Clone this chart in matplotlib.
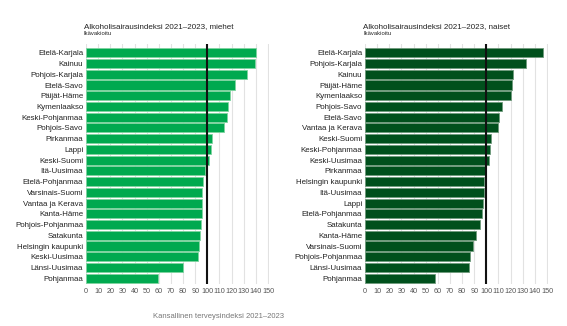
import matplotlib
matplotlib.use("Agg")
import matplotlib.pyplot as plt

plt.rcParams['font.family'] = ['Liberation Sans', 'DejaVu Sans']

men_regions = ["Etelä-Karjala", "Kainuu", "Pohjois-Karjala", "Etelä-Savo", "Päijät-Häme",
               "Kymenlaakso", "Keski-Pohjanmaa", "Pohjois-Savo", "Pirkanmaa", "Lappi",
               "Keski-Suomi", "Itä-Uusimaa", "Etelä-Pohjanmaa", "Varsinais-Suomi",
               "Vantaa ja Kerava", "Kanta-Häme", "Pohjois-Pohjanmaa", "Satakunta",
               "Helsingin kaupunki", "Keski-Uusimaa", "Länsi-Uusimaa", "Pohjanmaa"]
men_values = [140, 139.4, 133, 123, 119, 117, 116.5, 114, 104, 103, 101.2, 98, 96.3, 96,
              95.7, 95.2, 94.9, 94.1, 93, 92.4, 79.6, 59.3]

women_regions = ["Etelä-Karjala", "Pohjois-Karjala", "Kainuu", "Päijät-Häme", "Kymenlaakso",
                 "Pohjois-Savo", "Etelä-Savo", "Vantaa ja Kerava", "Keski-Suomi",
                 "Keski-Pohjanmaa", "Keski-Uusimaa", "Pirkanmaa", "Helsingin kaupunki",
                 "Itä-Uusimaa", "Lappi", "Etelä-Pohjanmaa", "Satakunta", "Kanta-Häme",
                 "Varsinais-Suomi", "Pohjois-Pohjanmaa", "Länsi-Uusimaa", "Pohjanmaa"]
women_values = [146.4, 132.7, 122.3, 121.4, 120.3, 112.9, 110.7, 109.3, 103.6, 102.7, 102.5,
                99.5, 98.1, 97.8, 97, 96.2, 94.5, 91.5, 89, 86.8, 85.7, 58]

xticks = list(range(0, 151, 10))
titles = ["Alkoholisairausindeksi 2021–2023, miehet", "Alkoholisairausindeksi 2021–2023, naiset"]
subtitle = "Ikävakioitu"
footer = "Kansallinen terveysindeksi 2021–2023"

W, H = 567, 326
fig = plt.figure(figsize=(W / 100, H / 100), dpi=100)

def make_panel(x0px, regions, values, color, edge, title):
    ax = fig.add_axes([x0px / W, 1 - 284 / H, 182 * 151 / 150 / W, 240 / H])
    y = list(range(len(regions)))
    ax.set_axisbelow(True)
    ax.grid(axis='x', color='#e2e2e2', linewidth=0.8)
    ax.barh(y, values, height=0.84, color=color, edgecolor=edge, linewidth=0.6, zorder=2)
    ax.axvline(100, color='#111111', linewidth=1.5, zorder=3)
    ax.set_xlim(0, 151)
    ax.set_ylim(21.54, -0.82)
    ax.set_yticks(y)
    ax.set_yticklabels(regions, fontsize=5.7, color='#222222')
    ax.set_xticks(xticks)
    ax.set_xticklabels([str(t) for t in xticks], fontsize=5.2, color='#555555')
    ax.tick_params(length=0, pad=2)
    ax.tick_params(axis='x', pad=3)
    for s in ax.spines.values():
        s.set_visible(False)
    fig.text((x0px - 2) / W, 1 - 26.5 / H, title, fontsize=5.8, color='#222222', va='center')
    fig.text((x0px - 2) / W, 1 - 33.5 / H, subtitle, fontsize=4.2, color='#222222', va='center')
    return ax

make_panel(86, men_regions, men_values, '#00a94f', '#7fd4a0', titles[0])
make_panel(365, women_regions, women_values, '#00501c', '#6f9a7c', titles[1])

fig.text(153 / W, 1 - 316 / H, footer, fontsize=5.5, color='#777777', va='center')

fig.savefig("out.png", dpi=100)
